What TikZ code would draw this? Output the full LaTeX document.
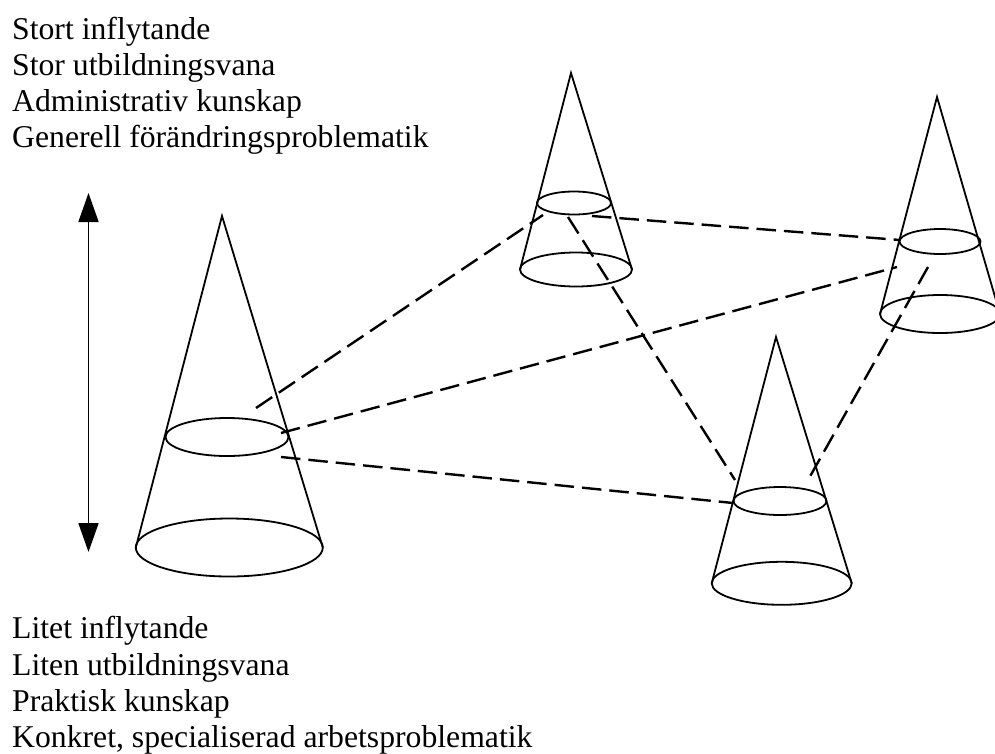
\documentclass[tikz,border=0pt]{standalone}
\usepackage{fontspec}
\setmainfont{Liberation Serif}
\usetikzlibrary{shapes.geometric,arrows.meta}
\begin{document}
\begin{tikzpicture}[x=1pt,y=-1pt,
  side/.style={line width=1.8pt},
  ring/.style={ellipse, draw, line width=1.8pt, inner sep=0pt, outer sep=0pt},
  link/.style={line width=2.4pt, dash pattern=on 19.5pt off 8pt},
  lbl/.style={anchor=base west, inner sep=0pt, font=\fontsize{31.7}{36}\selectfont}]
\useasboundingbox (0,0) rectangle (995,753);
% texts
\node[lbl] (t1) at (12,39) {Stort inflytande};
\node[lbl] (t2) at (12,75) {Stor utbildningsvana};
\node[lbl] (t3) at (12,111) {Administrativ kunskap};
\node[lbl] (t4) at (12,147) {Generell förändringsproblematik};
\node[lbl] (b1t) at (12,638) {Litet inflytande};
\node[lbl] (b2t) at (12,675) {Liten utbildningsvana};
\node[lbl] (b3t) at (12,711) {Praktisk kunskap};
\node[lbl] (b4t) at (12,747) {Konkret, specialiserad arbetsproblematik};
% arrow
\coordinate (arrTop) at (88.5,193);
\coordinate (arrBot) at (88.5,552);
\draw[side, {Triangle[length=29pt,width=20pt]}-{Triangle[length=29pt,width=20pt]}] (arrTop) -- (arrBot);
% cone 1 (left)
\coordinate (A1) at (222,216);
\node[ring, minimum width=123pt, minimum height=38pt] (m1) at (227,437) {};
\node[ring, minimum width=187pt, minimum height=58pt] (c1) at (229.3,547.5) {};
\draw[side] (c1.west) -- (A1) -- (c1.east);
% cone 2 (top)
\coordinate (A2) at (571,73);
\node[ring, minimum width=74pt, minimum height=23pt] (m2) at (574,203) {};
\node[ring, minimum width=112pt, minimum height=34pt] (c2) at (576,269.5) {};
\draw[side] (c2.west) -- (A2) -- (c2.east);
% cone 3 (right)
\coordinate (A3) at (937,97);
\node[ring, minimum width=81pt, minimum height=25pt] (m3) at (940,241.5) {};
\node[ring, minimum width=120pt, minimum height=38pt] (c3) at (940,314) {};
\draw[side] (c3.west) -- (A3) -- (c3.east);
% cone 4 (bottom)
\coordinate (A4) at (776,337);
\node[ring, minimum width=93pt, minimum height=28pt] (m4) at (780,501) {};
\node[ring, minimum width=140pt, minimum height=43pt] (c4) at (781.7,583.3) {};
\draw[side] (c4.west) -- (A4) -- (c4.east);
% link end points
\coordinate (p1a) at (256,408);   \coordinate (p1b) at (543,215);
\coordinate (p2a) at (281,433);   \coordinate (p2b) at (897,267);
\coordinate (p3a) at (281,457);   \coordinate (p3b) at (733,503);
\coordinate (p4a) at (592,216);   \coordinate (p4b) at (900,240);
\coordinate (p5a) at (568,217);   \coordinate (p5b) at (735,480);
\coordinate (p6a) at (928,267);   \coordinate (p6b) at (808,480);
\draw[link] (p1a) -- (p1b);
\draw[link] (p2a) -- (p2b);
\draw[link] (p3a) -- (p3b);
\draw[link] (p4a) -- (p4b);
\draw[link] (p5a) -- (p5b);
\draw[link] (p6a) -- (p6b);
\end{tikzpicture}
\end{document}
